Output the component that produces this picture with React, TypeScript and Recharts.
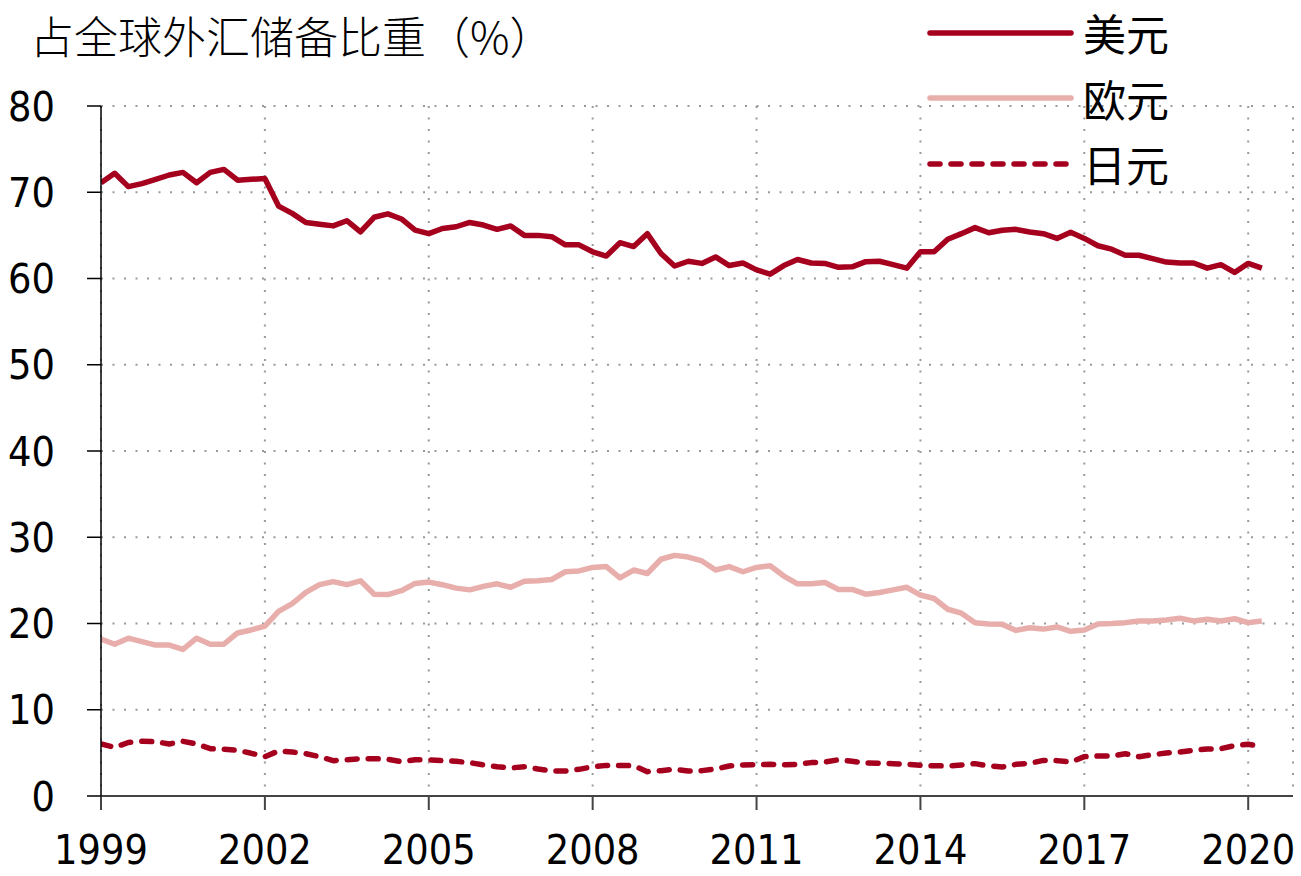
import { LineChart, Line, XAxis, YAxis, CartesianGrid } from 'recharts'

// quarterly shares of global FX reserves, 1999Q1 .. 2020Q2
const startYear = 1999
const usd = [
  71.1, 72.2, 70.65, 71.0,
  71.5, 72.0, 72.3, 71.1,
  72.3, 72.65, 71.4, 71.5,
  71.6, 68.4, 67.55, 66.5,
  66.3, 66.1, 66.7, 65.4,
  67.1, 67.5, 66.9, 65.6,
  65.2, 65.8, 66.0, 66.5,
  66.2, 65.7, 66.1, 65.0,
  65.0, 64.85, 63.9, 63.9,
  63.1, 62.6, 64.15, 63.7,
  65.2, 62.9, 61.45, 62.0,
  61.75, 62.5, 61.5, 61.8,
  61.0, 60.5, 61.5, 62.2,
  61.8, 61.75, 61.3, 61.35,
  61.95, 62.0, 61.6, 61.2,
  63.1, 63.1, 64.55, 65.2,
  65.9, 65.3, 65.6, 65.7,
  65.4, 65.2, 64.65, 65.35,
  64.65, 63.8, 63.4, 62.7,
  62.7, 62.3, 61.9, 61.8,
  61.8, 61.2, 61.6, 60.7,
  61.75, 61.2,
]
const eur = [
  18.2, 17.6, 18.3, 17.9,
  17.5, 17.5, 17.0, 18.3,
  17.6, 17.6, 18.9, 19.25,
  19.7, 21.4, 22.3, 23.6,
  24.5, 24.85, 24.5, 24.95,
  23.4, 23.35, 23.8, 24.65,
  24.8, 24.5, 24.1, 23.9,
  24.3, 24.6, 24.2, 24.9,
  24.95, 25.1, 26.0, 26.1,
  26.5, 26.6, 25.3, 26.2,
  25.8, 27.45, 27.9, 27.7,
  27.25, 26.2, 26.6, 26.0,
  26.5, 26.7, 25.5, 24.6,
  24.6, 24.75, 23.95, 23.95,
  23.4, 23.6, 23.9, 24.2,
  23.3, 22.9, 21.65, 21.2,
  20.1, 19.95, 19.9, 19.2,
  19.5, 19.35, 19.6, 19.1,
  19.25, 19.95, 20.0, 20.1,
  20.3, 20.3, 20.4, 20.6,
  20.3, 20.5, 20.3, 20.55,
  20.1, 20.3,
]
const jpy = [
  6.03, 5.64, 6.2, 6.34,
  6.3, 6.03, 6.34, 6.03,
  5.49, 5.41, 5.3, 4.95,
  4.56, 5.22, 5.1, 4.9,
  4.56, 4.1, 4.2, 4.33,
  4.33, 4.25, 3.98, 4.2,
  4.2, 4.1, 4.02, 3.87,
  3.6, 3.4, 3.25, 3.4,
  3.13, 2.9, 2.9, 3.09,
  3.4, 3.55, 3.55, 3.51,
  2.82, 2.94, 3.09, 2.9,
  2.94, 3.13, 3.48, 3.6,
  3.63, 3.67, 3.63, 3.67,
  3.87, 3.94, 4.2, 4.02,
  3.83, 3.79, 3.75, 3.67,
  3.55, 3.51, 3.48, 3.6,
  3.75, 3.48, 3.36, 3.67,
  3.79, 4.13, 4.1, 3.94,
  4.56, 4.64, 4.64, 4.9,
  4.56, 4.79, 4.98, 5.1,
  5.3, 5.45, 5.49, 5.83,
  6.0, 5.72,
]
const xTicks = [1999, 2002, 2005, 2008, 2011, 2014, 2017, 2020]
const yTicks = [0, 10, 20, 30, 40, 50, 60, 70, 80]

const RED = '#A6001F'
const PINK = '#E8AEAB'

const series = [
  { key: 'usd', name: '美元', color: RED, dash: undefined as string | undefined },
  { key: 'eur', name: '欧元', color: PINK, dash: undefined as string | undefined },
  { key: 'jpy', name: '日元', color: RED, dash: '10 11' },
]

const data = usd.map((v, i) => ({
  t: startYear + i * 0.25,
  usd: v,
  eur: eur[i],
  jpy: jpy[i],
}))

const tickFont = {
  fontSize: 41,
  fill: '#000',
  fontFamily: "'DejaVu Sans Condensed', 'DejaVu Sans', sans-serif",
  fontStretch: 'condensed',
}

function LegendBox() {
  return (
    <div
      style={{
        position: 'absolute',
        left: 924,
        top: 0,
        zIndex: 2,
        fontFamily: "'Noto Sans CJK SC', sans-serif",
      }}
    >
      {series.map(s => (
        <div key={s.key} style={{ display: 'flex', alignItems: 'center', height: 65.5 }}>
          <svg width={158} height={12} style={{ display: 'block' }}>
            <line
              x1={6}
              x2={147}
              y1={6}
              y2={6}
              stroke={s.color}
              strokeWidth={5.5}
              strokeLinecap="round"
              strokeDasharray={s.dash}
            />
          </svg>
          <span style={{ fontSize: 43, color: '#000', marginLeft: 1, lineHeight: 1 }}>{s.name}</span>
        </div>
      ))}
    </div>
  )
}

export default function App() {
  return (
    <div style={{ position: 'absolute', left: 0, top: 0, width: 1301, height: 876, background: '#fff' }}>
      <div
        style={{
          position: 'absolute',
          left: 30,
          top: 8,
          fontSize: 44,
          lineHeight: '54px',
          fontFamily: "'Noto Sans CJK SC', sans-serif",
          fontWeight: 300,
          color: '#000',
          zIndex: 2,
        }}
      >
        占全球外汇储备比重（%）
      </div>
      <LegendBox />
      <LineChart width={1301} height={876} data={data} margin={{ top: 106, right: 8, left: 0, bottom: 0 }}>
        <CartesianGrid stroke="#999" strokeWidth={2} strokeDasharray="2 9.5" />
        <XAxis
          dataKey="t"
          type="number"
          domain={[1999, 2020.82]}
          ticks={xTicks}
          allowDataOverflow
          height={80}
          tick={tickFont}
          tickSize={14}
          tickMargin={25}
          stroke="#444"
          strokeWidth={2}
          tickFormatter={(v: number) => String(Math.round(v))}
        />
        <YAxis
          domain={[0, 80]}
          ticks={yTicks}
          width={101}
          tick={tickFont}
          tickSize={14}
          tickMargin={32}
          stroke="#000"
          strokeWidth={1.5}
        />
        {series.map(s => (
          <Line
            key={s.key}
            dataKey={s.key}
            name={s.name}
            type="linear"
            stroke={s.color}
            strokeWidth={5.5}
            strokeDasharray={s.dash}
            strokeLinecap={s.dash ? 'round' : 'butt'}
            strokeLinejoin="round"
            dot={false}
            activeDot={false}
            isAnimationActive={false}
          />
        ))}
      </LineChart>
    </div>
  )
}
